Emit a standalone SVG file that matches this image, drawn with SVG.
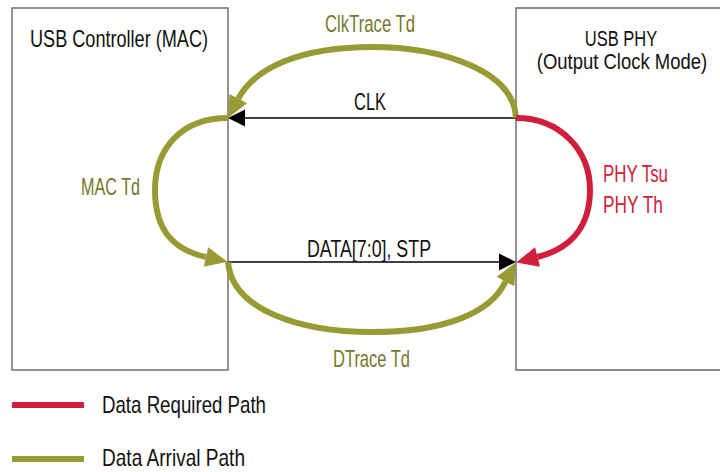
<svg xmlns="http://www.w3.org/2000/svg" width="720" height="472" viewBox="0 0 720 472">
<style>
text{font-family:"Liberation Sans Narrow","Liberation Sans",Arial,sans-serif;font-size:24px;}
.dk{fill:#111;}
.ol{fill:#76782d;}
.rd{fill:#d0203a;}
.sm{font-size:22px;}
.box{fill:#fff;stroke:#666;stroke-width:1.4;}
.wire{stroke:#000;stroke-width:1.5;fill:none;}
.arc-o{stroke:#9a9a35;stroke-width:6;fill:none;}
.arc-r{stroke:#d01f3c;stroke-width:6;fill:none;}
.head-o{fill:#9a9a35;}
.head-r{fill:#d01f3c;}
.head-k{fill:#000;}
</style>
<rect width="720" height="472" fill="#fff"/>
<g id="mac">
<rect class="box" x="12" y="8" width="216" height="362"/>
<text class="dk" x="30" y="47" textLength="178" lengthAdjust="spacingAndGlyphs">USB Controller (MAC)</text>
</g>
<g id="phy">
<path class="box" d="M720,8 H516 V370 H720"/>
<text class="dk sm" transform="translate(621,46) scale(0.75,1)" text-anchor="middle">USB PHY</text>
<text class="dk sm" transform="translate(622,69) scale(0.84,1)" text-anchor="middle">(Output Clock Mode)</text>
</g>
<g id="connectors">
<line class="wire" x1="244" y1="118" x2="516" y2="118"/>
<polygon class="head-k" points="228,118 245,109.5 245,126.5"/>
<text class="dk" x="354" y="110" textLength="32" lengthAdjust="spacingAndGlyphs">CLK</text>
<line class="wire" x1="228" y1="262" x2="500" y2="262"/>
<polygon class="head-k" points="516,262 499,253.5 499,270.5"/>
<text class="dk" x="307" y="257" textLength="124" lengthAdjust="spacingAndGlyphs">DATA[7:0], STP</text>

<path class="arc-o" d="M516,118 C514,70 440,47 372,47 C300,47 255,68 238.3,98.6"/>
<polygon class="head-o" points="228,118 247.1,103.3 229.5,93.9"/>
<text class="ol" x="325" y="32" textLength="90" lengthAdjust="spacingAndGlyphs">ClkTrace Td</text>

<path class="arc-o" d="M228,118 C180,118 155,150 155,190 C155,232 175,250 206,257"/>
<polygon class="head-o" points="227.5,261.8 203.8,266.75 208.2,247.25"/>
<text class="ol" x="81" y="195" textLength="59" lengthAdjust="spacingAndGlyphs">MAC Td</text>

<path class="arc-o" d="M228,262 C232,310 300,332 372,332 C440,332 490,315 505.5,281.5"/>
<polygon class="head-o" points="516,262.2 514.3,286.3 496.7,276.7"/>
<text class="ol" x="333" y="367" textLength="77" lengthAdjust="spacingAndGlyphs">DTrace Td</text>

<path class="arc-r" d="M516,118 C560,118 590,150 590,190 C590,232 565,250 537.5,257"/>
<polygon class="head-r" points="516.2,262.4 540,266.7 535,247.3"/>
<text class="rd" x="603" y="182" textLength="65" lengthAdjust="spacingAndGlyphs">PHY Tsu</text>
<text class="rd" x="603" y="213" textLength="60" lengthAdjust="spacingAndGlyphs">PHY Th</text>
</g>
<g id="legend">
<line x1="12" y1="405" x2="84" y2="405" stroke="#d01f3c" stroke-width="6"/>
<text class="dk" x="102" y="413" textLength="164" lengthAdjust="spacingAndGlyphs">Data Required Path</text>
<line x1="12" y1="459" x2="84" y2="459" stroke="#9a9a35" stroke-width="6"/>
<text class="dk" x="102" y="466" textLength="143" lengthAdjust="spacingAndGlyphs">Data Arrival Path</text>
</g>
</svg>
